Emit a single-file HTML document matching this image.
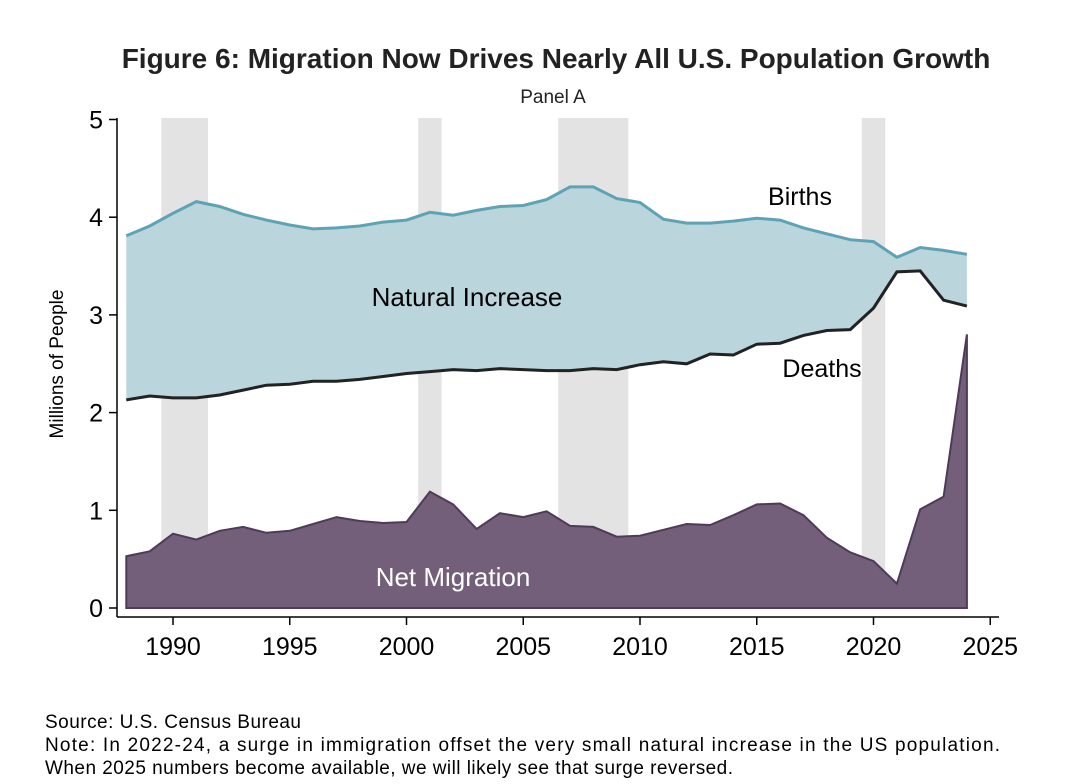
<!DOCTYPE html>
<html><head><meta charset="utf-8"><style>body{margin:0;background:#fff}svg{display:block}text{font-family:"Liberation Sans",Arial,sans-serif}</style></head>
<body>
<svg id="s" width="1078" height="784" xmlns="http://www.w3.org/2000/svg">
<rect width="1078" height="784" fill="#fff"/>
<g id="bars"></g>
<g id="data"></g>
<line x1="117" y1="118" x2="117" y2="617" stroke="#000" stroke-width="1.5"/>
<line x1="117" y1="617" x2="999" y2="617" stroke="#000" stroke-width="1.5"/>
<g id="ticks"></g>
<text x="556" y="68" font-size="28" font-weight="bold" text-anchor="middle" fill="#222">Figure 6: Migration Now Drives Nearly All U.S. Population Growth</text>
<text x="553" y="103" font-size="19" text-anchor="middle" fill="#222">Panel A</text>
<text transform="translate(63,364) rotate(-90)" font-size="19" text-anchor="middle" fill="#000">Millions of People</text>
<text x="467" y="306" font-size="26" text-anchor="middle" fill="#000">Natural Increase</text>
<text x="800" y="205" font-size="25" text-anchor="middle" fill="#000">Births</text>
<text x="822" y="377" font-size="25" text-anchor="middle" fill="#000">Deaths</text>
<text x="453" y="586" font-size="26" text-anchor="middle" fill="#fff">Net Migration</text>
<text x="45" y="728" font-size="19" fill="#000" textLength="256">Source: U.S. Census Bureau</text>
<text x="45" y="751" font-size="19" fill="#000" textLength="955">Note: In 2022-24, a surge in immigration offset the very small natural increase in the US population.</text>
<text x="45" y="774" font-size="19" fill="#000" textLength="688">When 2025 numbers become available, we will likely see that surge reversed.</text>
</svg>
<script>
const X=y=>173+(y-1990)*23.35, Y=v=>608-97.7*v;
const B=[3.81,3.91,4.04,4.16,4.11,4.03,3.97,3.92,3.88,3.89,3.91,3.95,3.97,4.05,4.02,4.07,4.11,4.12,4.18,4.31,4.31,4.19,4.15,3.98,3.94,3.94,3.96,3.99,3.97,3.89,3.83,3.77,3.75,3.59,3.69,3.66,3.62];
const D=[2.13,2.17,2.15,2.15,2.18,2.23,2.28,2.29,2.32,2.32,2.34,2.37,2.40,2.42,2.44,2.43,2.45,2.44,2.43,2.43,2.45,2.44,2.49,2.52,2.50,2.60,2.59,2.70,2.71,2.79,2.84,2.85,3.07,3.44,3.45,3.15,3.09];
const M=[0.53,0.58,0.76,0.70,0.79,0.83,0.77,0.79,0.86,0.93,0.89,0.87,0.88,1.19,1.06,0.81,0.97,0.93,0.99,0.84,0.83,0.73,0.74,0.80,0.86,0.85,0.95,1.06,1.07,0.95,0.72,0.57,0.48,0.25,1.01,1.14,2.80];
const ns="http://www.w3.org/2000/svg";
function el(p,t,a){const e=document.createElementNS(ns,t);for(const k in a)e.setAttribute(k,a[k]);document.getElementById(p).appendChild(e);return e;}
[[1989.5,1991.5],[2000.5,2001.5],[2006.5,2009.5],[2019.5,2020.5]].forEach(r=>el("bars","rect",{x:X(r[0]),y:118,width:X(r[1])-X(r[0]),height:490,fill:"#e3e3e3"}));
const pts=a=>a.map((v,i)=>X(1988+i).toFixed(1)+","+Y(v).toFixed(1));
const bp=pts(B),dp=pts(D),mp=pts(M);
el("data","polygon",{points:bp.concat(dp.slice().reverse()).join(" "),fill:"#bad5dc"});
el("data","polygon",{points:[X(1988)+","+Y(0)].concat(mp,[X(2024)+","+Y(0)]).join(" "),fill:"#735f7a",stroke:"#4e3b57","stroke-width":2});
el("data","polyline",{points:bp.join(" "),fill:"none",stroke:"#5ea3b5","stroke-width":3});
el("data","polyline",{points:dp.join(" "),fill:"none",stroke:"#222","stroke-width":3});
for(let v=0;v<=5;v++){el("ticks","line",{x1:109,x2:117,y1:Y(v),y2:Y(v),stroke:"#000","stroke-width":1.5});const t=el("ticks","text",{x:103,y:Y(v)+9,"font-size":25,"text-anchor":"end"});t.textContent=v;}
for(let y=1990;y<=2025;y+=5){el("ticks","line",{x1:X(y),x2:X(y),y1:617,y2:625,stroke:"#000","stroke-width":1.5});const t=el("ticks","text",{x:X(y),y:655,"font-size":25,"text-anchor":"middle"});t.textContent=y;}
</script>
</body></html>
